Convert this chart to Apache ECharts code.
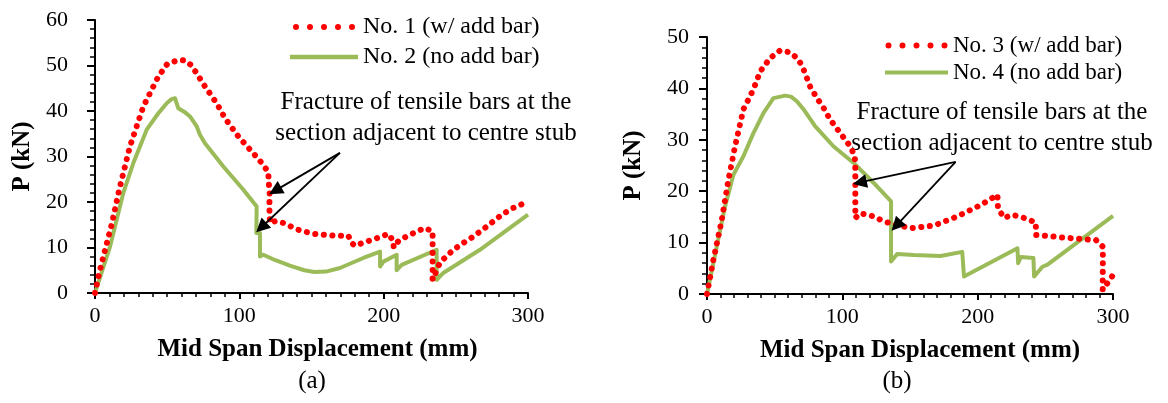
<!DOCTYPE html>
<html>
<head>
<meta charset="utf-8">
<script src="https://cdn.jsdelivr.net/npm/echarts@6/dist/echarts.min.js"></script>
<style>
html,body{margin:0;padding:0;background:#fff;}
#chart{width:1168px;height:403px;}
</style>
</head>
<body>
<div id="chart"></div>
<script>
// ---- Data (Mid span displacement mm, P kN) ----
const seriesNames = ['No. 1 (w/ add bar)', 'No. 2 (no add bar)', 'No. 3 (w/ add bar)', 'No. 4 (no add bar)'];
const no1 = [[0,0],[3,4.5],[7,9.5],[11.5,15],[17,23],[24.2,32.2],[33.5,41],[43.9,47.6],[50,50.3],[54.3,50.8],[57.7,51.2],[62.4,51.1],[66.9,50],[72,47.5],[76.2,45.4],[84.3,41.7],[90.1,38.4],[99.3,34.4],[109.7,30.7],[116.6,28.2],[120.1,26.5],[120.3,24.5],[121,22],[120.8,19],[121.2,15.4],[125,15.8],[130.5,15.4],[139.7,14],[151.3,13],[165.1,12.6],[175.5,12.6],[177.8,11],[180,10.4],[188.3,11.3],[197.5,12.3],[203.2,13],[206.5,11.5],[207,10],[209,11],[211.3,11.7],[222.9,13.5],[228.6,14.3],[233.9,13.5],[233.9,8],[233.9,2.9],[239,6.7],[248.3,9.5],[255.2,11],[262.1,12.4],[271.4,14.6],[281.8,17.2],[289.8,18.7],[300,20.1]];
const no2 = [[0,0],[10.4,10.2],[19.6,22],[26.5,28.5],[35.8,35.9],[43.9,39.5],[50,41.8],[53.1,42.6],[55.4,42.8],[57,41.3],[57.7,40.6],[62,39.8],[65.8,38.8],[70.5,36.6],[72.7,34.8],[76.2,32.9],[88.9,27.8],[102.8,22.7],[112,19],[111.8,13.2],[114.3,13.2],[114.3,8],[116.6,8.4],[125,7.2],[135,6],[145,5],[152,4.6],[160,4.7],[169.7,5.5],[185.9,7.7],[197.5,9.1],[197.5,5.8],[199.8,6.9],[209,8.4],[209,5],[212.5,6.2],[236.7,9.5],[236.7,2.9],[241.3,4.4],[266.7,9.5],[300,17.2]];
const no3 = [[0,0],[4.7,6.6],[10.9,14.4],[15.8,22.2],[20.7,28.7],[26.9,35.9],[34.3,39.8],[39.3,43.3],[46.7,45.9],[54.1,47.4],[61.5,47],[67.7,45.6],[71.3,43.7],[76.3,40.3],[81.3,38.1],[86.2,36.2],[91.1,33.9],[98.5,31.3],[105.9,28.7],[109.2,26.8],[109.6,24.2],[109.6,19.6],[109.6,17.2],[109.6,14.8],[113.3,15.7],[123.2,15.1],[130.6,14.1],[150.4,12.8],[167.6,13.3],[185,15.1],[202.2,17.3],[214.6,19.3],[215,16.7],[219.5,14.8],[225.7,15.4],[234.3,14.8],[243,13.9],[243,11.5],[251.6,11.3],[262.7,11],[276.3,10.7],[287.4,10.5],[292.5,9.2],[292.5,6.6],[292.4,2.7],[292.4,0.8],[300,3.7]];
const no4 = [[0,0],[7.2,9.2],[13.3,17],[19.5,23.2],[26.9,26.8],[34.3,31.3],[41.7,35.2],[49.1,38.1],[57.8,38.6],[62,38.4],[66.4,37.5],[71.4,35.9],[80,32.6],[93.6,28.7],[108.4,25.5],[123.2,21.6],[136,18],[136,6.3],[140.5,7.8],[152.8,7.6],[172.6,7.4],[188.6,8.2],[189.9,3.4],[229.4,8.9],[229.9,6],[231.9,7.2],[241.2,7],[241.7,3.4],[247.9,5.3],[251.6,5.7],[300,15.2]];
// annotation arrows: [from, to] in data units
const arrowsA = [[[169.7,30.8],[124.8,22.5]],[[169.7,30.8],[115.2,14.4]]];
const arrowsB = [[[183.7,25.7],[112.9,21.7]],[[183.7,25.7],[139.9,13.3]]];
const annotationText = 'Fracture of tensile bars at the\nsection adjacent to centre stub';
const panelLabels = ['(a)', '(b)'];
const xTitle = 'Mid Span Displacement (mm)';
const yTitle = 'P (kN)';

const RED = '#FF0000', GREEN = '#9BBB59';
const FONT = '"Liberation Serif", "Times New Roman", serif';
const dotsIcon = 'path://' + [0,1,2,3,4].map(i => {const cx = 3 + 14 * i; return 'M' + (cx - 3) + ',3a3,3 0 1,0 6,0a3,3 0 1,0 -6,0Z';}).join('');
const barIcon = 'path://M0,0L68,0L68,4.5L0,4.5Z';

function xAxisCfg(grid, nameShift) {
  return {
    gridIndex: grid, type: 'value', min: 0, max: 300, interval: 100,
    axisLine: {show: true, onZero: false, lineStyle: {color: '#000', width: 2}},
    axisTick: {show: true, length: 6, lineStyle: {color: '#000', width: 2}},
    minorTick: {show: true, splitNumber: 10, length: 4, lineStyle: {color: '#000', width: 1.5}},
    splitLine: {show: false},
    axisLabel: {fontFamily: FONT, fontSize: 22, color: '#000', margin: 12},
    name: xTitle, nameLocation: 'middle', nameGap: 44,
    nameTextStyle: {fontFamily: FONT, fontWeight: 'bold', fontSize: 25, color: '#000', padding: [0, 0, 0, nameShift]}
  };
}
function yAxisCfg(grid, max, margin, gap) {
  return {
    gridIndex: grid, type: 'value', min: 0, max: max, interval: 10,
    axisLine: {show: true, lineStyle: {color: '#000', width: 2}},
    axisTick: {show: true, length: 8, lineStyle: {color: '#000', width: 2}},
    minorTick: {show: true, splitNumber: 5, length: 5, lineStyle: {color: '#000', width: 1.5}},
    splitLine: {show: false},
    axisLabel: {fontFamily: FONT, fontSize: 22, color: '#000', margin: margin},
    name: yTitle, nameLocation: 'middle', nameGap: gap, nameRotate: 90,
    nameTextStyle: {fontFamily: FONT, fontWeight: 'bold', fontSize: 25, color: '#000'}
  };
}
function arrowMark(list) {
  return {
    silent: true, symbol: ['none', 'triangle'], symbolSize: 14,
    label: {show: false},
    lineStyle: {color: '#000', width: 1.8, type: 'solid'},
    emphasis: {disabled: true},
    data: list.map(a => [{coord: a[0]}, {coord: a[1]}])
  };
}
function dotted(name, data, xi) {
  return {
    name: name, type: 'line', xAxisIndex: xi, yAxisIndex: xi, data: data,
    showSymbol: false, symbol: 'none', color: RED, itemStyle: {color: RED},
    lineStyle: {color: RED, width: 6, type: [0.1, 8.5], cap: 'round'}, z: 3
  };
}
function solid(name, data, xi, arrows) {
  return {
    name: name, type: 'line', xAxisIndex: xi, yAxisIndex: xi, data: data,
    showSymbol: false, symbol: 'none', color: GREEN, itemStyle: {color: GREEN},
    lineStyle: {color: GREEN, width: 4, join: 'round'}, z: 2,
    markLine: arrowMark(arrows)
  };
}

const chart = echarts.init(document.getElementById('chart'));
chart.setOption({
  animation: false,
  backgroundColor: '#fff',
  grid: [
    {left: 95, top: 20, width: 433, height: 273, containLabel: false},
    {left: 707, top: 37, width: 406, height: 257, containLabel: false}
  ],
  xAxis: [xAxisCfg(0, 12), xAxisCfg(1, 20)],
  yAxis: [yAxisCfg(0, 60, 27, 60), yAxisCfg(1, 50, 18, 61)],
  legend: [
    {orient: 'vertical', left: 285, top: 10, itemWidth: 68, itemHeight: 6, itemGap: 6,
     data: [{name: seriesNames[0], icon: dotsIcon}, {name: seriesNames[1], icon: barIcon}],
     itemStyle: {borderWidth: 0}, lineStyle: {width: 0},
     textStyle: {fontFamily: FONT, fontSize: 24, color: '#000'}},
    {orient: 'vertical', left: 880, top: 29, itemWidth: 63, itemHeight: 6, itemGap: 4,
     data: [{name: seriesNames[2], icon: dotsIcon}, {name: seriesNames[3], icon: barIcon}],
     itemStyle: {borderWidth: 0}, lineStyle: {width: 0},
     textStyle: {fontFamily: FONT, fontSize: 23, color: '#000'}}
  ],
  graphic: [
    {type: 'text', x: 426, y: 117.5, style: {text: annotationText, font: '25px ' + FONT, fill: '#000', align: 'center', verticalAlign: 'middle', lineHeight: 31}},
    {type: 'text', x: 1002, y: 127.5, style: {text: annotationText, font: '25px ' + FONT, fill: '#000', align: 'center', verticalAlign: 'middle', lineHeight: 31}},
    {type: 'text', x: 312, y: 381, style: {text: panelLabels[0], font: '25px ' + FONT, fill: '#000', align: 'center', verticalAlign: 'middle'}},
    {type: 'text', x: 897, y: 381, style: {text: panelLabels[1], font: '25px ' + FONT, fill: '#000', align: 'center', verticalAlign: 'middle'}}
  ],
  series: [
    dotted(seriesNames[0], no1, 0),
    solid(seriesNames[1], no2, 0, arrowsA),
    dotted(seriesNames[2], no3, 1),
    solid(seriesNames[3], no4, 1, arrowsB)
  ]
});
</script>
</body>
</html>
